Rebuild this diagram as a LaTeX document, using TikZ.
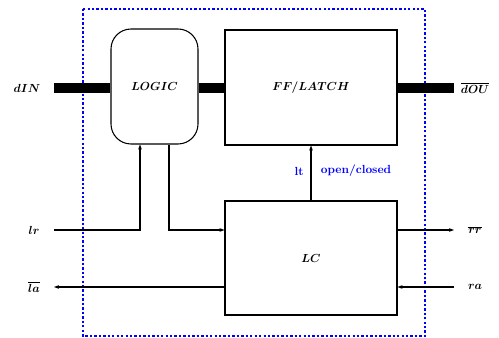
\documentclass[tikz,border=0pt]{standalone}
\usepackage{amsmath}
\usepackage{tikz}
\usetikzlibrary{arrows.meta,positioning,calc}

\begin{document}
\begin{tikzpicture}[
  font=\normalsize\boldmath, >={Stealth[length=1.5mm,width=1.1mm]},
  blk/.style={draw, line width=0.9pt, minimum width=5.16cm,
    minimum height=3.45cm, inner sep=0pt},
  logicblk/.style={blk, minimum width=2.61cm, rounded corners=0.6cm},
  bus/.style={line width=8.5pt},
  sig/.style={line width=0.9pt},
  lbl/.style={inner sep=1pt},
  ctl/.style={inner sep=1pt, text=blue, font=\normalsize\bfseries},
]
\useasboundingbox (0,0) rectangle (14.97,-10.14);
% frame
\draw[blue, line width=1.4pt, dash pattern=on 2pt off 1.8pt]
  (2.49,-0.27) rectangle (12.75,-10.08);
% blocks
\node[logicblk] (logic) at (4.635,-2.595) {$LOGIC$};
\node[blk] (ff) at (9.33,-2.625) {$FF/LATCH$};
\node[blk, minimum height=3.42cm] (lc) at (9.33,-7.74) {$LC$};
% port labels
\node[lbl] (din) at (0.81,-2.64) {$dIN$};
\node[lbl] (dou) at (14.25,-2.64) {$\overline{dOU}$};
\node[lbl] (lr) at (1.02,-6.9) {$lr$};
\node[lbl] (la) at (1.02,-8.61) {$\overline{la}$};
\node[lbl] (rr) at (14.25,-6.9) {$\overline{rr}$};
\node[lbl] (ra) at (14.25,-8.61) {$ra$};
% free ends
\coordinate (din0) at (1.62,-2.64);
\coordinate (dou0) at (13.62,-2.64);
\coordinate (lr0) at (1.62,-6.9);
\coordinate (la0) at (1.62,-8.61);
\coordinate (rr0) at (13.62,-6.9);
\coordinate (ra0) at (13.62,-8.61);
% data path
\draw[bus] (din0) -- (logic.west |- din0);
\draw[bus] (logic.east |- din0) -- (ff.west |- din0);
\draw[bus] (ff.east |- dou0) -- (dou0);
% handshake
\draw[sig, ->] (lr0) -| (4.2,0 |- logic.south);
\draw[sig, ->] (5.07,0 |- logic.south) |- (lc.west |- lr0);
\draw[sig, ->] (lc.west |- la0) -- (la0);
\draw[sig, ->] (lc.east |- rr0) -- (rr0);
\draw[sig, ->] (ra0) -- (lc.east |- ra0);
\draw[sig, ->] (lc.north) -- (ff.south);
\node[ctl] (lt) at (8.97,-5.13) {lt};
\node[ctl] (oc) at (10.68,-5.13) {open/closed};
\end{tikzpicture}
\end{document}
